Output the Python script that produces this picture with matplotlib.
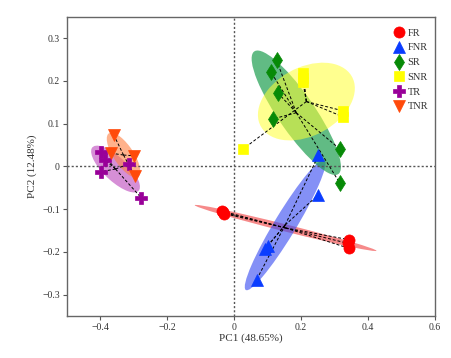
import numpy as np
import matplotlib
matplotlib.use("Agg")
import matplotlib.pyplot as plt
from matplotlib.patches import Ellipse

plt.rcParams['font.family'] = ['Liberation Serif', 'DejaVu Serif']

groups = ['FR', 'FNR', 'SR', 'SNR', 'TR', 'TNR']

FR_x = [-0.037, -0.031, -0.034, 0.342, 0.341, 0.342]
FR_y = [-0.104, -0.110, -0.107, -0.171, -0.180, -0.191]

FNR_x = [0.252, 0.252, 0.092, 0.100, 0.067]
FNR_y = [0.026, -0.066, -0.193, -0.186, -0.265]

SR_x = [0.127, 0.109, 0.132, 0.115, 0.316, 0.316]
SR_y = [0.248, 0.222, 0.171, 0.111, 0.041, -0.039]

SNR_x = [0.205, 0.207, 0.205, 0.326, 0.326, 0.027]
SNR_y = [0.218, 0.208, 0.198, 0.130, 0.116, 0.041]

TR_x = [-0.397, -0.387, -0.397, -0.315, -0.277]
TR_y = [0.034, 0.016, -0.012, 0.006, -0.074]

TNR_x = [-0.360, -0.367, -0.299, -0.297]
TNR_y = [0.074, 0.031, 0.025, -0.023]

xs = [FR_x, FNR_x, SR_x, SNR_x, TR_x, TNR_x]
ys = [FR_y, FNR_y, SR_y, SNR_y, TR_y, TNR_y]

marker_colors = ['#FF0000', '#0A3CFF', '#078A07', '#FFFF00', '#990099', '#FF4A0A']
ell_colors = ['#F03C3C', '#3246F0', '#1E9E50', '#FFFF33', '#BB44BB', '#FF7F40']
ell_alpha = [0.6, 0.6, 0.7, 0.55, 0.6, 0.6]
markers = ['o', '^', 'd', 's', 'P', 'v']
msizes = [8, 8, 8, 7.5, 9, 8]

fig = plt.figure(figsize=(4.52, 3.58), dpi=100)
ax = fig.add_axes([0.148, 0.117, 0.814, 0.836])

k = 1.32
# ellipses
for i, g in enumerate(groups):
    x = np.array(xs[i]); y = np.array(ys[i])
    cx, cy = x.mean(), y.mean()
    cov = np.cov(x, y)
    vals, vecs = np.linalg.eigh(cov)
    order = vals.argsort()[::-1]
    vals, vecs = vals[order], vecs[:, order]
    ang = np.degrees(np.arctan2(vecs[1, 0], vecs[0, 0]))
    w, h = 2 * k * np.sqrt(vals)
    e = Ellipse((cx, cy), w, h, angle=ang, facecolor=ell_colors[i],
                alpha=ell_alpha[i], edgecolor='none', zorder=1 + i * 0.01)
    ax.add_patch(e)

# reference lines
ax.axhline(0, color='#555555', lw=1, ls=(0, (1.5, 1.5)), zorder=2)
ax.axvline(0, color='#555555', lw=1, ls=(0, (1.5, 1.5)), zorder=2)

# spider lines
for i, g in enumerate(groups):
    x = np.array(xs[i]); y = np.array(ys[i])
    cx, cy = x.mean(), y.mean()
    for xi, yi in zip(x, y):
        ax.plot([cx, xi], [cy, yi], color='black', lw=0.7, ls=(0, (3, 2)), zorder=3)

# points
handles = []
for i, g in enumerate(groups):
    h, = ax.plot(xs[i], ys[i], ls='none', marker=markers[i], ms=msizes[i],
                 color=marker_colors[i], markeredgecolor=marker_colors[i],
                 markeredgewidth=0.5, zorder=4, label=g)
    handles.append(h)

ax.set_xlim(-0.5, 0.6)
ax.set_ylim(-0.35, 0.35)
ax.set_xticks([-0.4, -0.2, 0, 0.2, 0.4, 0.6])
ax.set_xticklabels(['\u22120.4', '\u22120.2', '0', '0.2', '0.4', '0.6'])
ax.set_yticks([-0.3, -0.2, -0.1, 0, 0.1, 0.2, 0.3])
ax.set_yticklabels(['\u22120.3', '\u22120.2', '\u22120.1', '0', '0.1', '0.2', '0.3'])

for s in ax.spines.values():
    s.set_color('#666666')
    s.set_linewidth(1.0)
ax.tick_params(direction='out', length=3, width=0.8, color='#555555',
               labelsize=7, labelcolor='#333333', pad=2)

ax.set_xlabel('PC1 (48.65%)', fontsize=8, color='#333333', labelpad=1)
ax.set_ylabel('PC2 (12.48%)', fontsize=8, color='#333333', labelpad=4)

leg = ax.legend(handles=handles, loc='upper right', frameon=False, fontsize=7.5,
                handlelength=1.0, handletextpad=0.3, labelspacing=0.52,
                borderaxespad=0.0, bbox_to_anchor=(0.993, 0.975))
for t in leg.get_texts():
    t.set_color('#333333')

fig.savefig('out.png', dpi=100)
